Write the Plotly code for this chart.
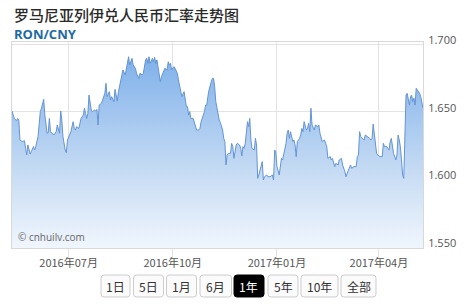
import plotly.graph_objects as go

# ---------------- data ----------------
dates = [
    # 2016-05
    "2016-05-12", "2016-05-14", "2016-05-16", "2016-05-17", "2016-05-18", "2016-05-19", "2016-05-21",
    "2016-05-23", "2016-05-24", "2016-05-25", "2016-05-26", "2016-05-28", "2016-05-29", "2016-05-31",
    # 2016-06
    "2016-06-01", "2016-06-02", "2016-06-04", "2016-06-06", "2016-06-07", "2016-06-09", "2016-06-10",
    "2016-06-12", "2016-06-13", "2016-06-14", "2016-06-15", "2016-06-18", "2016-06-20", "2016-06-21",
    "2016-06-23", "2016-06-24", "2016-06-25", "2016-06-26", "2016-06-28", "2016-06-29", "2016-06-30",
    # 2016-07
    "2016-07-02", "2016-07-03", "2016-07-05", "2016-07-06", "2016-07-07", "2016-07-08", "2016-07-10",
    "2016-07-11", "2016-07-12", "2016-07-14", "2016-07-15", "2016-07-16", "2016-07-17", "2016-07-18",
    "2016-07-19", "2016-07-21", "2016-07-22", "2016-07-24", "2016-07-25", "2016-07-26", "2016-07-27",
    "2016-07-28", "2016-07-30", "2016-07-31",
    # 2016-08
    "2016-08-02", "2016-08-03", "2016-08-04", "2016-08-06", "2016-08-07", "2016-08-08", "2016-08-10",
    "2016-08-11", "2016-08-13", "2016-08-14", "2016-08-16", "2016-08-17", "2016-08-18", "2016-08-20",
    "2016-08-21", "2016-08-23", "2016-08-24", "2016-08-26", "2016-08-27", "2016-08-29", "2016-08-30",
    # 2016-09
    "2016-09-01", "2016-09-02", "2016-09-04", "2016-09-05", "2016-09-07", "2016-09-08", "2016-09-09",
    "2016-09-10", "2016-09-11", "2016-09-13", "2016-09-14", "2016-09-15", "2016-09-16", "2016-09-17",
    "2016-09-19", "2016-09-20", "2016-09-21", "2016-09-23", "2016-09-24", "2016-09-26", "2016-09-27",
    "2016-09-28", "2016-09-29", "2016-09-30",
    # 2016-10
    "2016-10-02", "2016-10-03", "2016-10-05", "2016-10-06", "2016-10-08", "2016-10-09", "2016-10-11",
    "2016-10-12", "2016-10-13", "2016-10-14", "2016-10-15", "2016-10-16", "2016-10-17", "2016-10-19",
    "2016-10-20", "2016-10-21", "2016-10-22", "2016-10-24", "2016-10-25", "2016-10-26", "2016-10-27",
    "2016-10-29", "2016-10-30", "2016-10-31",
    # 2016-11
    "2016-11-01", "2016-11-02", "2016-11-04", "2016-11-05", "2016-11-06", "2016-11-07", "2016-11-08",
    "2016-11-09", "2016-11-11", "2016-11-12", "2016-11-14", "2016-11-15", "2016-11-16", "2016-11-17",
    "2016-11-18", "2016-11-19", "2016-11-21", "2016-11-22", "2016-11-23", "2016-11-24", "2016-11-25",
    "2016-11-26", "2016-11-27", "2016-11-29", "2016-11-30",
    # 2016-12
    "2016-12-01", "2016-12-02", "2016-12-03", "2016-12-04", "2016-12-06", "2016-12-07", "2016-12-08",
    "2016-12-09", "2016-12-10", "2016-12-12", "2016-12-13", "2016-12-14", "2016-12-15", "2016-12-16",
    "2016-12-17", "2016-12-19", "2016-12-20", "2016-12-21", "2016-12-23", "2016-12-24", "2016-12-26",
    "2016-12-28", "2016-12-29", "2016-12-30", "2016-12-31",
    # 2017-01
    "2017-01-01", "2017-01-03", "2017-01-04", "2017-01-05", "2017-01-06", "2017-01-08", "2017-01-09",
    "2017-01-10", "2017-01-11", "2017-01-12", "2017-01-13", "2017-01-15", "2017-01-16", "2017-01-17",
    "2017-01-18", "2017-01-19", "2017-01-21", "2017-01-22", "2017-01-23", "2017-01-24", "2017-01-25",
    "2017-01-27", "2017-01-28", "2017-01-29", "2017-01-30", "2017-01-31",
    # 2017-02
    "2017-02-01", "2017-02-03", "2017-02-04", "2017-02-06", "2017-02-07", "2017-02-08", "2017-02-10",
    "2017-02-12", "2017-02-14", "2017-02-15", "2017-02-17", "2017-02-18", "2017-02-19", "2017-02-21",
    "2017-02-22", "2017-02-24", "2017-02-25", "2017-02-27", "2017-02-28",
    # 2017-03
    "2017-03-02", "2017-03-03", "2017-03-04", "2017-03-05", "2017-03-07", "2017-03-08", "2017-03-10",
    "2017-03-12", "2017-03-13", "2017-03-14", "2017-03-15", "2017-03-16", "2017-03-18", "2017-03-19",
    "2017-03-20", "2017-03-22", "2017-03-24", "2017-03-25", "2017-03-26", "2017-03-27", "2017-03-29",
    "2017-03-30", "2017-03-31",
    # 2017-04
    "2017-04-01", "2017-04-02", "2017-04-04", "2017-04-05", "2017-04-06", "2017-04-08", "2017-04-09",
    "2017-04-10", "2017-04-11", "2017-04-12", "2017-04-14", "2017-04-15", "2017-04-16", "2017-04-17",
    "2017-04-18", "2017-04-19", "2017-04-20", "2017-04-21", "2017-04-22", "2017-04-23", "2017-04-24",
    "2017-04-25", "2017-04-26", "2017-04-27", "2017-04-28", "2017-04-29", "2017-04-30",
    # 2017-05
    "2017-05-01", "2017-05-02", "2017-05-03", "2017-05-04", "2017-05-05", "2017-05-07", "2017-05-08",
    "2017-05-09", "2017-05-10",
]

rates = [
    # 2016-05
    1.6505, 1.6450, 1.6433, 1.6450, 1.6438, 1.6290, 1.6278,
    1.6285, 1.6228, 1.6179, 1.6253, 1.6186, 1.6203, 1.6241,
    # 2016-06
    1.6216, 1.6241, 1.6315, 1.6500, 1.6525, 1.6591, 1.6475,
    1.6340, 1.6344, 1.6450, 1.6352, 1.6327, 1.6352, 1.6401,
    1.6340, 1.6505, 1.6438, 1.6315, 1.6216, 1.6196, 1.6290,
    # 2016-07
    1.6327, 1.6352, 1.6426, 1.6376, 1.6364, 1.6389, 1.6376,
    1.6426, 1.6450, 1.6475, 1.6525, 1.6487, 1.6450, 1.6487,
    1.6623, 1.6512, 1.6500, 1.6512, 1.6505, 1.6517, 1.6401,
    1.6549, 1.6562, 1.6586,
    # 2016-08
    1.6636, 1.6710, 1.6611, 1.6648, 1.6586, 1.6611, 1.6574,
    1.6665, 1.6580, 1.6648, 1.6722, 1.6784, 1.6809, 1.6772,
    1.6821, 1.6907, 1.6846, 1.6895, 1.6846, 1.6821, 1.6784,
    # 2016-09
    1.6747, 1.6784, 1.6772, 1.6784, 1.6883, 1.6895, 1.6858,
    1.6907, 1.6858, 1.6895, 1.6870, 1.6902, 1.6858, 1.6883,
    1.6759, 1.6722, 1.6759, 1.6796, 1.6821, 1.6809, 1.6870,
    1.6846, 1.6858, 1.6809,
    # 2016-10
    1.6833, 1.6821, 1.6784, 1.6735, 1.6636, 1.6611, 1.6648,
    1.6586, 1.6537, 1.6537, 1.6475, 1.6500, 1.6450, 1.6450,
    1.6413, 1.6389, 1.6364, 1.6364, 1.6376, 1.6426, 1.6450,
    1.6500, 1.6549, 1.6549,
    # 2016-11
    1.6611, 1.6660, 1.6722, 1.6747, 1.6747, 1.6685, 1.6574,
    1.6525, 1.6438, 1.6420, 1.6364, 1.6302, 1.6278, 1.6105,
    1.6179, 1.6191, 1.6191, 1.6265, 1.6241, 1.6154, 1.6228,
    1.6253, 1.6265, 1.6253, 1.6228,
    # 2016-12
    1.6172, 1.6241, 1.6228, 1.6265, 1.6426, 1.6389, 1.6450,
    1.6290, 1.6228, 1.6216, 1.6302, 1.6253, 1.6006, 1.6031,
    1.6068, 1.6129, 1.5994, 1.6018, 1.6031, 1.6018, 1.6018,
    1.6031, 1.5994, 1.6216, 1.6203,
    # 2017-01
    1.6093, 1.6031, 1.6080, 1.6154, 1.6142, 1.6216, 1.6265,
    1.6340, 1.6364, 1.6302, 1.6352, 1.6278, 1.6290, 1.6253,
    1.6167, 1.6278, 1.6302, 1.6327, 1.6376, 1.6352, 1.6426,
    1.6364, 1.6376, 1.6413, 1.6352, 1.6525,
    # 2017-02
    1.6401, 1.6364, 1.6401, 1.6389, 1.6401, 1.6340, 1.6278,
    1.6290, 1.6241, 1.6154, 1.6167, 1.6142, 1.6154, 1.6093,
    1.6117, 1.6105, 1.6142, 1.6154, 1.6105,
    # 2017-03
    1.6055, 1.6018, 1.6043, 1.6068, 1.6105, 1.6080, 1.6093,
    1.6093, 1.6167, 1.6179, 1.6352, 1.6315, 1.6302, 1.6290,
    1.6327, 1.6315, 1.6302, 1.6290, 1.6302, 1.6408, 1.6278,
    1.6191, 1.6179,
    # 2017-04
    1.6172, 1.6167, 1.6167, 1.6265, 1.6241, 1.6241, 1.6228,
    1.6216, 1.6278, 1.6302, 1.6191, 1.6167, 1.6142, 1.6179,
    1.6327, 1.6290, 1.6241, 1.6142, 1.6031, 1.6006, 1.6463,
    1.6623, 1.6636, 1.6586, 1.6549, 1.6611, 1.6623,
    # 2017-05
    1.6574, 1.6599, 1.6549, 1.6673, 1.6660, 1.6636, 1.6611,
    1.6562, 1.6525,
]

y_tick_values = [1.550, 1.600, 1.650, 1.700]
x_first_tick = "2016-07-01"
x_range = ["2016-05-12", "2017-05-10"]
y_range = [1.549, 1.7016]

title_text = "罗马尼亚列伊兑人民币汇率走势图"
pair_text = "RON/CNY"
watermark_text = "© cnhuilv.com"
range_buttons = ["1日", "5日", "1月", "6月", "1年", "5年", "10年", "全部"]
active_button = "1年"

# ---------------- layout constants (pixels) ----------------
W, H = 475, 304
ML, MR, MT, MB = 12, 52, 42, 56
PW = W - ML - MR
PH = H - MT - MB


def pxx(x):
    return (x - ML) / PW


def pxy(y):
    return (H - MB - y) / PH


def rounded_rect(x0, y0, x1, y1, r):
    pts = [
        ("M", [(x0 + r, y0)]),
        ("L", [(x1 - r, y0)]),
        ("Q", [(x1, y0), (x1, y0 + r)]),
        ("L", [(x1, y1 - r)]),
        ("Q", [(x1, y1), (x1 - r, y1)]),
        ("L", [(x0 + r, y1)]),
        ("Q", [(x0, y1), (x0, y1 - r)]),
        ("L", [(x0, y0 + r)]),
        ("Q", [(x0, y0), (x0 + r, y0)]),
    ]
    s = ""
    for cmd, ps in pts:
        s += cmd + " " + " ".join(f"{pxx(a):.5f},{pxy(b):.5f}" for a, b in ps) + " "
    return s + "Z"


fig = go.Figure()
fig.add_trace(
    go.Scatter(
        x=dates,
        y=rates,
        mode="lines",
        line=dict(color="#6394d4", width=1),
        fill="tozeroy",
        fillgradient=dict(
            type="vertical",
            start=y_range[0],
            stop=1.70,
            colorscale=[[0, "#f0f6fd"], [0.35, "#c9ddf4"], [1, "#78ace9"]],
        ),
        hoverinfo="skip",
        showlegend=False,
    )
)

shapes = []
annotations = []

# range selector buttons
btn_left = [101, 133.5, 166.5, 200, 234, 268, 301, 341]
btn_width = [29, 30, 30, 31.5, 30, 30, 37, 35]
btn_top, btn_bottom = 275, 297
for lab, bx, bw in zip(range_buttons, btn_left, btn_width):
    active = lab == active_button
    shapes.append(
        dict(
            type="path",
            xref="paper",
            yref="paper",
            path=rounded_rect(bx, btn_top, bx + bw, btn_bottom, 3),
            fillcolor="#000000" if active else "#fbfbfb",
            line=dict(color="#000000" if active else "#cccccc", width=1),
            layer="above",
        )
    )
    annotations.append(
        dict(
            x=pxx(bx + bw / 2),
            y=pxy((btn_top + btn_bottom) / 2),
            xref="paper",
            yref="paper",
            text=lab,
            showarrow=False,
            xanchor="center",
            yanchor="middle",
            font=dict(size=12, color="#ffffff" if active else "#333333",
                      family="Noto Sans CJK SC"),
        )
    )

annotations.append(
    dict(
        x=pxx(12), y=pxy(14), xref="paper", yref="paper", text=title_text,
        showarrow=False, xanchor="left", yanchor="middle",
        font=dict(size=15, color="#2a2a2a", family="Noto Sans CJK SC", weight=500),
    )
)
annotations.append(
    dict(
        x=pxx(12), y=pxy(34), xref="paper", yref="paper", text="<b>" + pair_text + "</b>",
        showarrow=False, xanchor="left", yanchor="middle",
        font=dict(size=13, color="#1d6aa5", family="Open Sans"),
    )
)
annotations.append(
    dict(
        x=pxx(16), y=pxy(237), xref="paper", yref="paper", text=watermark_text,
        showarrow=False, xanchor="left", yanchor="middle",
        font=dict(size=10, color="#666666", family="Open Sans"),
    )
)

fig.update_layout(
    width=W,
    height=H,
    margin=dict(l=ML, r=MR, t=MT, b=MB, pad=0),
    paper_bgcolor="#ffffff",
    plot_bgcolor="#ffffff",
    font=dict(family="Open Sans, Noto Sans CJK SC", size=11, color="#555555"),
    shapes=shapes,
    annotations=annotations,
    showlegend=False,
    xaxis=dict(
        type="date",
        range=x_range,
        tick0=x_first_tick,
        dtick="M3",
        tickformat="%Y年%m月",
        ticks="outside",
        ticklen=9,
        tickcolor="#e3e3e3",
        showgrid=True,
        gridcolor="#e3e3e3",
        gridwidth=1,
        showline=True,
        mirror=True,
        linecolor="#d9d9d9",
        linewidth=1,
        zeroline=False,
        automargin=False,
        ticklabelstandoff=-4,
        tickfont=dict(size=11, color="#555555", family="Noto Sans CJK SC"),
        fixedrange=True,
    ),
    yaxis=dict(
        side="right",
        range=y_range,
        tickvals=y_tick_values,
        tickformat=".3f",
        ticks="",
        showgrid=True,
        gridcolor="#e3e3e3",
        gridwidth=1,
        showline=True,
        mirror=True,
        linecolor="#d9d9d9",
        linewidth=1,
        zeroline=False,
        automargin=False,
        ticklabelshift=-4,
        ticklabelstandoff=2,
        tickfont=dict(size=11, color="#555555", family="Open Sans"),
        fixedrange=True,
    ),
)

fig.write_html("out.html", config=dict(displayModeBar=False))
